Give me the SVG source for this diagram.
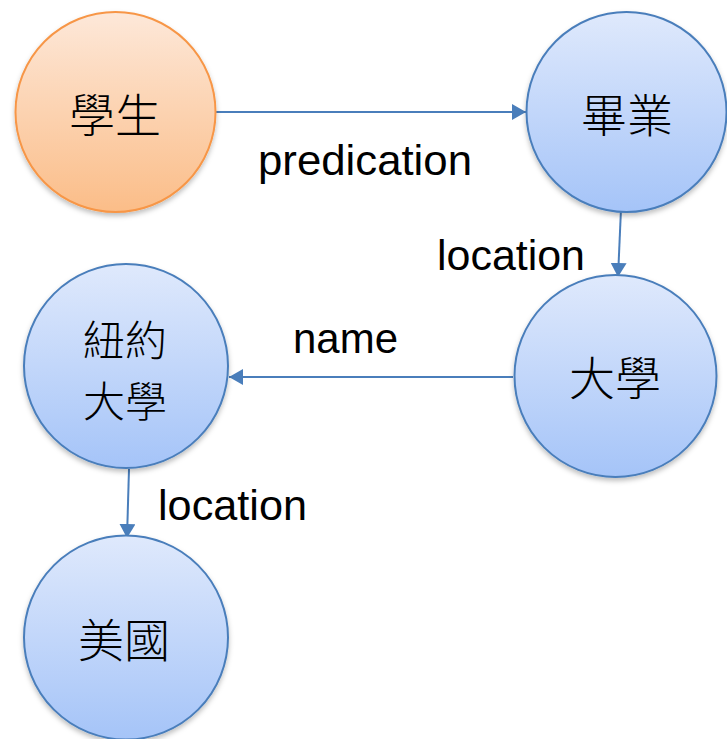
<svg xmlns="http://www.w3.org/2000/svg" width="727" height="739" viewBox="0 0 727 739">
<defs>
<linearGradient id="gBlue" x1="0" y1="0" x2="0" y2="1">
<stop offset="0" stop-color="#dfe9fc"/>
<stop offset="1" stop-color="#a5c4f8"/>
</linearGradient>
<linearGradient id="gOrange" x1="0" y1="0" x2="0" y2="1">
<stop offset="0" stop-color="#fde8d9"/>
<stop offset="1" stop-color="#fbbd88"/>
</linearGradient>
<filter id="sh" x="-20%" y="-20%" width="140%" height="150%">
<feDropShadow dx="0" dy="3" stdDeviation="2.5" flood-color="#000" flood-opacity="0.25"/>
</filter>
<marker id="arr" markerWidth="8" markerHeight="8" refX="7" refY="4" orient="auto" markerUnits="strokeWidth">
<path d="M0,0 L7,4 L0,8 Z" fill="#4a7ebb"/>
</marker>
<style>
.blue{fill:url(#gBlue);stroke:#4a7ebb;stroke-width:2;filter:url(#sh)}
.orange{fill:url(#gOrange);stroke:#f79646;stroke-width:2;filter:url(#sh)}
.cjk{font-family:"Noto Sans CJK TC","Noto Sans CJK JP",sans-serif;font-size:46px;font-weight:300;fill:#000;text-anchor:middle}
.cjk2{font-size:42px}
.lbl{font-family:"Liberation Sans",Arial,sans-serif;font-size:42px;fill:#000}
.edge{stroke:#4a7ebb;stroke-width:2;fill:none;marker-end:url(#arr)}
</style>
</defs>
<rect width="727" height="739" fill="#fff"/>
<g id="connectors">
<line class="edge" x1="216" y1="112" x2="526" y2="112"/>
<line class="edge" x1="621" y1="209" x2="618" y2="277"/>
<line class="edge" x1="513" y1="377" x2="229" y2="377"/>
<line class="edge" x1="129" y1="469" x2="127" y2="538"/>
<text class="lbl" x="258" y="175" textLength="214" lengthAdjust="spacingAndGlyphs">predication</text>
<text class="lbl" x="437" y="270" textLength="148" lengthAdjust="spacingAndGlyphs">location</text>
<text class="lbl" x="293" y="353" textLength="105" lengthAdjust="spacingAndGlyphs">name</text>
<text class="lbl" x="158" y="520" textLength="149" lengthAdjust="spacingAndGlyphs">location</text>
</g>
<g id="student">
<circle class="orange" cx="115.5" cy="112" r="100"/>
<text class="cjk" x="115" y="132">學生</text>
</g>
<g id="graduate">
<circle class="blue" cx="626.5" cy="112" r="100"/>
<text class="cjk" x="627" y="132">畢業</text>
</g>
<g id="university">
<circle class="blue" cx="615.5" cy="376" r="101"/>
<text class="cjk" x="615" y="395">大學</text>
</g>
<g id="nyu">
<circle class="blue" cx="126" cy="366" r="102"/>
<text class="cjk cjk2" x="125" y="356"><tspan x="125" y="356">紐約</tspan><tspan x="125" y="417">大學</tspan></text>
</g>
<g id="usa">
<circle class="blue" cx="126" cy="637.5" r="102"/>
<text class="cjk" x="124" y="657">美國</text>
</g>
</svg>
